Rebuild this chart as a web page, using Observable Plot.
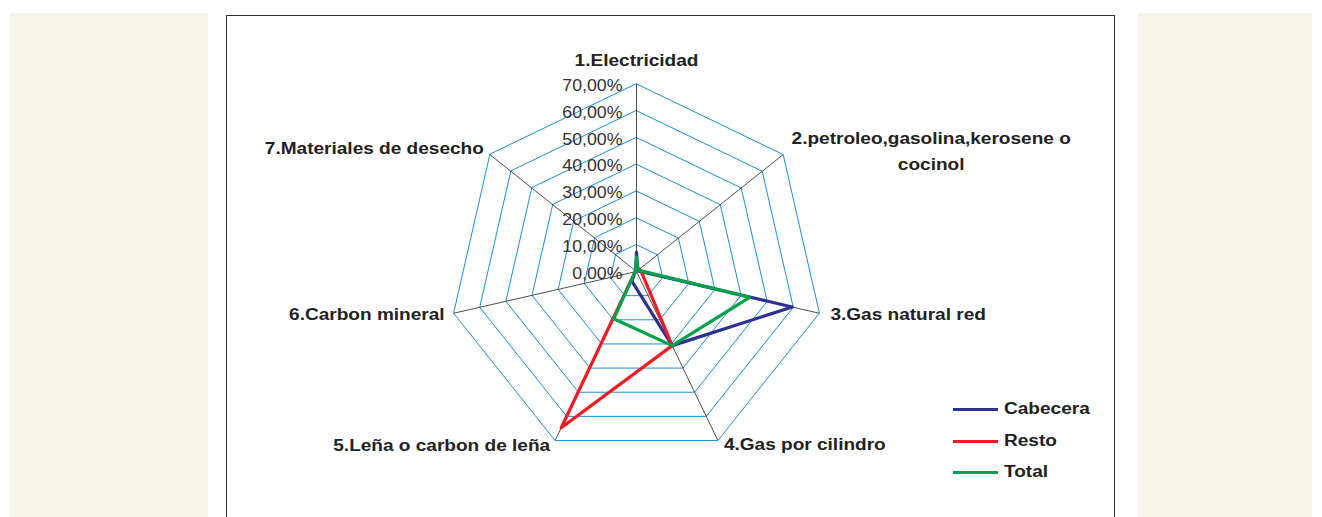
<!DOCTYPE html>
<html>
<head>
<meta charset="utf-8">
<script src="https://cdn.jsdelivr.net/npm/d3@7"></script>
<script src="https://cdn.jsdelivr.net/npm/@observablehq/plot@0.6"></script>
<style>
html, body { margin: 0; padding: 0; background: #fff; }
#wrap { position: relative; width: 1322px; height: 517px; overflow: hidden; font-family: "Liberation Sans", Arial, sans-serif; }
.panel { position: absolute; background: #f6f3eb; top: 13px; height: 510px; }
#box { position: absolute; left: 226px; top: 15px; width: 889px; height: 520px; border: 1.6px solid #333; border-bottom: none; box-sizing: border-box; background: #fff; }
#chart { position: absolute; left: 0; top: 0; }
.leg { position: absolute; left: 953px; font-weight: bold; font-size: 16px; color: #222; }
.leg span.sw { position: absolute; left: 0; width: 45px; height: 3px; }
.leg span.tx { position: absolute; left: 51px; top: -10px; white-space: nowrap; line-height: 20px; transform: scaleX(1.19); transform-origin: 0 50%; }
</style>
</head>
<body>
<div id="wrap">
  <div class="panel" style="left:10px;width:198px"></div>
  <div class="panel" style="left:1138px;width:174px"></div>
  <div id="box"></div>
  <div id="chart"></div>
  <div id="legend"></div>
</div>
<script>
// ---------- data ----------
const categories = [
  "1.Electricidad",
  "2.petroleo,gasolina,kerosene o\ncocinol",
  "3.Gas natural red",
  "4.Gas por cilindro",
  "5.Leña o carbon de leña",
  "6.Carbon mineral",
  "7.Materiales de desecho"
];
const seriesNames = ["Cabecera", "Resto", "Total"];
const cabecera = [7.2, 0.5, 59.6, 30.7, 4.0, 0.5, 0.3];
const resto    = [1.0, 1.5, 2.0, 30.7, 64.7, 0.5, 0.5];
const total    = [5.5, 0.8, 43.3, 30.7, 19.6, 0.5, 0.4];
const tickValues = [0, 10, 20, 30, 40, 50, 60, 70];
const tickLabels = ["0,00%", "10,00%", "20,00%", "30,00%", "40,00%", "50,00%", "60,00%", "70,00%"];

// ---------- styling / layout ----------
const colors = ["#2e3192", "#ed1c24", "#00a14b"];
const W = 1322, H = 517, CX = 636, CY = 271, K = 2.68; // px per percent
const labelLayout = [
  {textAnchor: "middle", dx: 0, dy: -23},
  {textAnchor: "middle", dx: 148, dy: -6, lineAnchor: "middle", lineHeight: 1.65},
  {textAnchor: "start", dx: 11, dy: 2},
  {textAnchor: "start", dx: 6, dy: 4},
  {textAnchor: "end", dx: -5, dy: 5},
  {textAnchor: "end", dx: -9, dy: 2},
  {textAnchor: "end", dx: -6, dy: -6}
];

const N = categories.length;
const ang = i => i * 2 * Math.PI / N;
const pt = (r, i) => ({x: r * Math.sin(ang(i)), y: r * Math.cos(ang(i))});
const rMax = tickValues[tickValues.length - 1];

const grid = [];
tickValues.filter(v => v > 0).forEach(v => {
  for (let i = 0; i < N; i++) grid.push({level: v, ...pt(v, i)});
});
const spokes = categories.map((c, i) => ({x1: 0, y1: 0, x2: pt(rMax, i).x, y2: pt(rMax, i).y}));
const seriesValues = [cabecera, resto, total];
const seriesData = seriesValues.map((vals, s) => vals.map((v, i) => ({series: seriesNames[s], ...pt(v, i)})));
const ticks = tickValues.map((v, k) => ({y: v, label: tickLabels[k]}));
const catPts = categories.map((c, i) => ({label: c, ...pt(rMax, i)}));

const chart = Plot.plot({
  width: W, height: H, margin: 0,
  x: {domain: [-CX / K, (W - CX) / K], axis: null},
  y: {domain: [-(H - CY) / K, CY / K], axis: null},
  style: {background: "transparent", overflow: "visible", fontFamily: "'Liberation Sans', Arial, sans-serif"},
  marks: [
    Plot.line(grid, {x: "x", y: "y", z: "level", curve: "linear-closed", stroke: "#1b8fd8", strokeWidth: 1}),
    Plot.link(spokes, {x1: "x1", y1: "y1", x2: "x2", y2: "y2", stroke: "#222", strokeWidth: 0.8}),
    ...seriesData.map((d, s) => Plot.line(d, {x: "x", y: "y", curve: "linear-closed", stroke: colors[s], strokeWidth: 3.2})),
    Plot.text(ticks, {x: 0, y: "y", text: "label", textAnchor: "end", dx: -14, dy: 2, fontSize: 16, fill: "#333"}),
    ...catPts.map((d, i) => Plot.text([d], {x: "x", y: "y", text: "label", fontSize: 16, fontWeight: "bold", fill: "#222", ...labelLayout[i]}))
  ]
});
// the reference type is horizontally wide: stretch each label around its anchor
chart.querySelectorAll("text").forEach(t => {
  const tr = t.getAttribute("transform");
  if (!tr) return;
  const bold = t.closest("[font-weight='bold']");
  t.setAttribute("transform", tr + ` scale(${bold ? 1.19 : 1.11},1)`);
});
document.getElementById("chart").appendChild(chart);

// legend
const legTops = [409, 441, 472];
const legend = document.getElementById("legend");
seriesNames.forEach((name, s) => {
  const d = document.createElement("div");
  d.className = "leg";
  d.style.top = legTops[s] + "px";
  d.innerHTML = `<span class="sw" style="background:${colors[s]};top:-1.5px"></span><span class="tx">${name}</span>`;
  legend.appendChild(d);
});
</script>
</body>
</html>
